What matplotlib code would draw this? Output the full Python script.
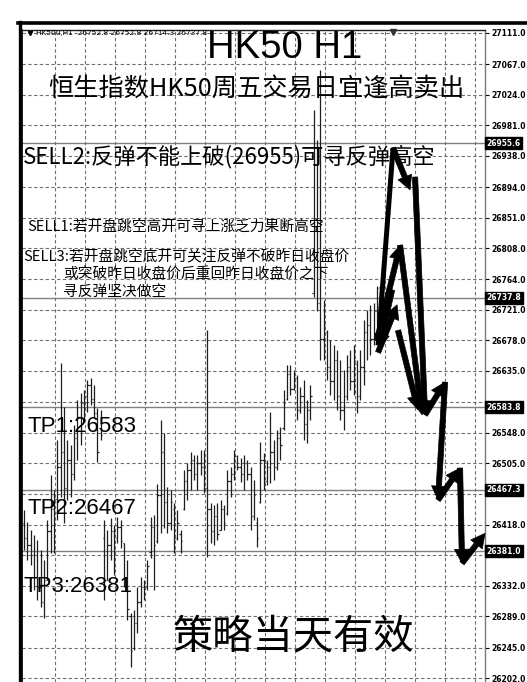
import matplotlib
matplotlib.use("Agg")
import matplotlib.pyplot as plt
from matplotlib.lines import Line2D
import numpy as np

# ---------------- data (H1 OHLC bars) ----------------
highs = [26439, 26422, 26411, 26404, 26397, 26383, 26369, 26425, 26488, 26467,
         26538, 26646, 26584, 26538, 26531, 26559, 26594, 26604, 26608, 26622,
         26625, 26615, 26583, 26580, 26425, 26411, 26428, 26418, 26429, 26425,
         26392, 26369, 26294, 26298, 26330, 26345, 26340, 26369, 26429, 26432,
         26476, 26566, 26547, 26471, 26467, 26449, 26439, 26411, 26495, 26505,
         26521, 26516, 26516, 26524, 26524, 26692, 26449, 26446, 26449, 26453,
         26446, 26495, 26500, 26524, 26516, 26512, 26516, 26509, 26500, 26481,
         26429, 26535, 26519, 26509, 26577, 26538, 26552, 26556, 26608, 26643,
         26643, 26636, 26629, 26612, 26622, 26594, 26615, 27003, 26960, 27059,
         26735, 26692, 26678, 26671, 26664, 26650, 26636, 26657, 26664, 26671,
         26650, 26664, 26706, 26721, 26728, 26731, 26755, 26752.8]
lows = [26383, 26369, 26361, 26326, 26312, 26302, 26287, 26340, 26378, 26378,
        26425, 26457, 26421, 26453, 26457, 26481, 26509, 26531, 26566, 26577,
        26587, 26570, 26507, 26538, 26312, 26340, 26369, 26347, 26392, 26385,
        26330, 26284, 26218, 26242, 26266, 26302, 26312, 26326, 26372, 26326,
        26392, 26406, 26414, 26406, 26411, 26378, 26397, 26378, 26439, 26453,
        26467, 26481, 26467, 26488, 26463, 26373, 26392, 26390, 26397, 26411,
        26411, 26432, 26457, 26481, 26495, 26478, 26467, 26481, 26411, 26425,
        26387, 26449, 26467, 26474, 26477, 26481, 26495, 26509, 26552, 26594,
        26601, 26608, 26566, 26576, 26538, 26533, 26566, 26739, 26720, 26650,
        26650, 26622, 26601, 26594, 26580, 26566, 26552, 26594, 26608, 26601,
        26576, 26594, 26615, 26650, 26657, 26671, 26700, 26714.3]
opens = [26420, 26400, 26390, 26375, 26345, 26330, 26310, 26340, 26410, 26440,
         26455, 26500, 26520, 26470, 26510, 26490, 26540, 26570, 26590, 26600,
         26615, 26595, 26575, 26555, 26400, 26340, 26390, 26410, 26400, 26415,
         26392, 26340, 26290, 26245, 26280, 26310, 26330, 26330, 26380, 26415,
         26395, 26460, 26520, 26450, 26420, 26440, 26400, 26405, 26440, 26480,
         26495, 26510, 26490, 26505, 26500, 26470, 26440, 26410, 26430, 26411,
         26440, 26435, 26480, 26490, 26515, 26500, 26490, 26505, 26490, 26430,
         26420, 26450, 26510, 26480, 26500, 26520, 26500, 26540, 26555, 26595,
         26630, 26610, 26625, 26580, 26600, 26560, 26580, 26745, 26950, 26730,
         26680, 26690, 26640, 26620, 26650, 26600, 26580, 26600, 26640, 26620,
         26645, 26600, 26640, 26690, 26700, 26680, 26720, 26752.8]
closes = [26400, 26390, 26375, 26345, 26330, 26310, 26340, 26410, 26440, 26455,
          26500, 26520, 26470, 26510, 26490, 26540, 26570, 26590, 26600, 26615,
          26595, 26575, 26520, 26545, 26330, 26390, 26410, 26360, 26415, 26395,
          26340, 26300, 26240, 26280, 26310, 26330, 26320, 26360, 26415, 26390,
          26460, 26520, 26450, 26420, 26450, 26400, 26420, 26395, 26480, 26495,
          26510, 26490, 26505, 26500, 26470, 26440, 26410, 26430, 26405, 26440,
          26420, 26480, 26490, 26515, 26500, 26490, 26505, 26490, 26430, 26460,
          26400, 26510, 26480, 26500, 26520, 26500, 26540, 26530, 26590, 26630,
          26610, 26625, 26580, 26600, 26560, 26580, 26600, 26950, 26730, 26680,
          26700, 26640, 26620, 26650, 26600, 26580, 26600, 26640, 26620, 26650,
          26600, 26640, 26690, 26700, 26680, 26720, 26752, 26737.8]

# right axis price labels (grid lines); hidden ones sit behind the level boxes
tick_values = [27111.0, 27067.0, 27024.0, 26981.0, 26938.0, 26894.0, 26851.0,
               26808.0, 26764.0, 26721.0, 26678.0, 26635.0, 26591.5, 26548.0,
               26505.0, 26462.0, 26418.0, 26375.0, 26332.0, 26289.0, 26245.0,
               26202.0]
hidden_ticks = [26591.5, 26462.0, 26375.0]
# horizontal price lines with highlighted labels
level_values = [26955.6, 26737.8, 26583.8, 26467.3, 26381.0]

# arrow strokes: (bar index start, price start, bar index end, price end, has head)
arrow_segments = [
    (106.3, 26671, 110.8, 26949, False),
    (110.8, 26949, 115.9, 26890, True),
    (117.4, 26908, 120.4, 26573, True),
    (106.0, 26678, 112.9, 26812, True),
    (112.9, 26812, 119.5, 26573, True),
    (106.3, 26661, 112.0, 26728, True),
    (112.3, 26692, 118.3, 26580, True),
    (110.5, 26749, 106.6, 26667, True),
    (120.4, 26573, 126.4, 26619, True),
    (126.4, 26619, 124.3, 26453, True),
    (124.3, 26453, 130.9, 26498, True),
    (130.9, 26498, 131.5, 26364, True),
    (131.5, 26364, 138.4, 26406, True),
]

header = "HK50u,H1  26752.8 26752.8 26714.3 26737.8"
title = "HK50 H1"
subtitle = "恒生指数HK50周五交易日宜逢高卖出"
sell2 = "SELL2:反弹不能上破(26955)可寻反弹高空"
sell1 = "SELL1:若开盘跳空高开可寻上涨乏力果断高空"
sell3 = ["SELL3:若开盘跳空底开可关注反弹不破昨日收盘价",
         "或突破昨日收盘价后重回昨日收盘价之下",
         "寻反弹坚决做空"]
tp_labels = ["TP1:26583", "TP2:26467", "TP3:26381"]
footer = "策略当天有效"

# ---------------- figure ----------------
W, H = 527, 682
fig = plt.figure(figsize=(W / 100, H / 100), dpi=100)
fig.patch.set_facecolor("white")

def fx(x):
    return x / W

def fy(y):
    return 1 - y / H

ax = fig.add_axes([fx(22), 0, fx(485) - fx(22), fy(30)])
ax.set_facecolor("white")
ax.set_xlim(-0.6, 138.4)
ax.set_ylim(26196.6, 27115.2)

# grid
ax.set_xticks(np.arange(9.3, 138.4, 9.0))
ax.tick_params(axis="x", length=0, labelbottom=False)
ax.yaxis.tick_right()
ax.set_yticks(tick_values)
ax.set_yticklabels(["" if v in hidden_ticks else f"{v:.1f}" for v in tick_values])
ax.tick_params(axis="y", length=3, width=0.8, pad=1.5, labelsize=5.5,
               colors="black")
for lab in ax.get_yticklabels():
    lab.set_fontweight("bold")
ax.grid(True, color="#6e6e6e", lw=0.8, ls=(0, (3, 2.2)), zorder=0)

ax.spines["bottom"].set_visible(False)
ax.spines["top"].set_color("#222222")
ax.spines["top"].set_linewidth(1.0)
ax.spines["left"].set_color("black")
ax.spines["left"].set_linewidth(1.2)
ax.spines["right"].set_color("#7a7a7a")
ax.spines["right"].set_linewidth(1.0)

# price level lines and highlighted labels
for v in level_values:
    ax.axhline(v, color="#808080", lw=1.0, zorder=1)
    ax.text(1.004, v, f"{v:.1f}", transform=ax.get_yaxis_transform(),
            ha="left", va="center", fontsize=5.5, color="white",
            fontweight="bold", zorder=10, clip_on=False,
            bbox=dict(boxstyle="square,pad=0.18", fc="black", ec="black"))

# OHLC bars
idx = np.arange(len(highs))
ax.vlines(idx, lows, highs, color="#1e1e1e", lw=0.9, zorder=3)
ax.hlines(opens, idx - 0.4, idx, color="#1e1e1e", lw=0.9, zorder=3)
ax.hlines(closes, idx, idx + 0.4, color="#1e1e1e", lw=0.9, zorder=3)

# arrows
for x0, y0, x1, y1, head in arrow_segments:
    if head:
        ax.annotate("", xy=(x1, y1), xytext=(x0, y0), zorder=6,
                    arrowprops=dict(arrowstyle="simple,head_length=1.0,head_width=1.05,tail_width=0.38",
                                    fc="black", ec="black", lw=0.5,
                                    mutation_scale=10, shrinkA=0, shrinkB=0))
    else:
        ax.plot([x0, x1], [y0, y1], color="black", lw=3.6,
                solid_capstyle="butt", zorder=6)

# outer frame
fig.add_artist(Line2D([fx(18), 1], [fy(23), fy(23)], color="black", lw=2.6))
fig.add_artist(Line2D([fx(19.5), fx(19.5)], [0, fy(22)], color="black", lw=2.4))
fig.add_artist(Line2D([fx(393)], [fy(31.5)], marker="v", ms=5, color="#333333",
                      lw=0))
fig.add_artist(Line2D([fx(30)], [fy(33)], marker="v", ms=3, color="black", lw=0))

cjk = ["Noto Sans CJK SC", "DejaVu Sans"]

fig.text(fx(36), fy(33), header, fontsize=5.3, family="DejaVu Sans",
         ha="left", va="center", color="black")
fig.text(fx(285), fy(48.5), title, fontsize=27.5, family="Liberation Sans",
         ha="center", va="center", color="black")
fig.text(fx(256), fy(90), subtitle, fontsize=18.2, family=cjk,
         fontweight="medium", ha="center", va="center", color="black")
fig.text(fx(23), fy(157), sell2, fontsize=16.0, family=cjk,
         ha="left", va="center", color="black")
fig.text(fx(27), fy(228), sell1, fontsize=10.6, family=cjk,
         ha="left", va="center", color="black")
fig.text(fx(23), fy(257), sell3[0], fontsize=10.6, family=cjk,
         ha="left", va="center", color="black")
fig.text(fx(63), fy(274), sell3[1], fontsize=10.6, family=cjk,
         ha="left", va="center", color="black")
fig.text(fx(63), fy(292), sell3[2], fontsize=10.6, family=cjk,
         ha="left", va="center", color="black")

for lab, xp, yp in zip(tp_labels, [28, 28, 23], [427, 508, 586]):
    fig.text(fx(xp), fy(yp), lab, fontsize=16, family="Liberation Sans",
             ha="left", va="center", color="black")

fig.text(fx(293), fy(637), footer, fontsize=29, family=cjk,
         ha="center", va="center", color="black")

fig.savefig("out.png", dpi=100, facecolor="white")
